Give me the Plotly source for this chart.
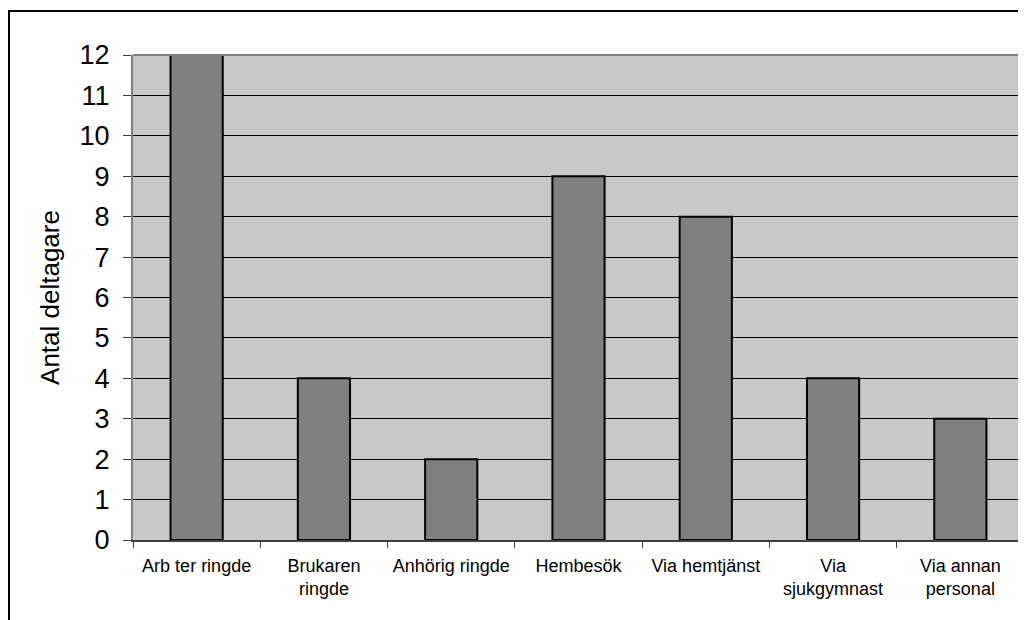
import plotly.graph_objects as go

categories = ["Arb ter ringde", "Brukaren<br>ringde", "Anhörig ringde", "Hembesök",
              "Via hemtjänst", "Via<br>sjukgymnast", "Via annan<br>personal"]
values = [12, 4, 2, 9, 8, 4, 3]
y_ticks = list(range(0, 13))

fig = go.Figure()
fig.add_trace(go.Bar(
    x=categories, y=values,
    marker=dict(color="#808080", line=dict(color="#000000", width=2)),
    width=0.41,
))

font = "Liberation Sans, Arial, sans-serif"
L, T, PW, PH = 125, 47, 891, 485
fig.update_layout(
    width=1026, height=620,
    margin=dict(l=L, r=1026 - L - PW, t=T, b=620 - T - PH, pad=0, autoexpand=False),
    paper_bgcolor="white",
    plot_bgcolor="#c8c8c8",
    showlegend=False,
    font=dict(family=font, color="black"),
    xaxis=dict(
        type="category",
        tickson="boundaries",
        ticks="outside", ticklen=6, tickcolor="#404040", tickwidth=1,
        showline=True, linecolor="#404040", linewidth=2, mirror=False,
        showgrid=False,
        tickfont=dict(size=18, family=font),
        tickangle=0,
        ticklabelstandoff=8,
        automargin=False,
    ),
    yaxis=dict(
        range=[0, 12],
        tickvals=y_ticks,
        ticks="outside", ticklen=8, tickcolor="#404040", tickwidth=1,
        showline=True, linecolor="#808080", linewidth=2, mirror=False,
        showgrid=True, gridcolor="#000000", gridwidth=1,
        zeroline=False,
        tickfont=dict(size=27, family=font),
        ticklabelstandoff=8,
        automargin=False,
        title=dict(text="Antal deltagare", font=dict(size=26, family=font), standoff=12),
    ),
    shapes=[
        dict(type="line", xref="paper", yref="paper", x0=0, x1=1, y0=1, y1=1,
             line=dict(color="#808080", width=2)),
        dict(type="line", xref="paper", yref="paper", x0=1, x1=1, y0=0, y1=1,
             line=dict(color="#808080", width=2)),
        dict(type="rect", xref="paper", yref="paper",
             x0=(1 - L) / PW, x1=1.05, y0=-0.3, y1=(T + PH - 3) / PH,
             line=dict(color="#000000", width=2), fillcolor="rgba(0,0,0,0)", layer="above"),
    ],
)

fig.write_html("out.html")
